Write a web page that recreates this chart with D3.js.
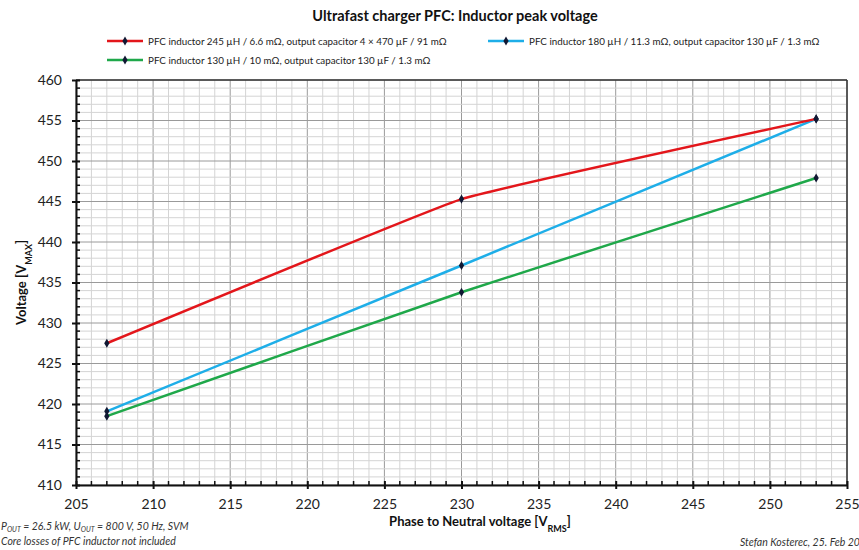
<!DOCTYPE html>
<html lang="en">
<head>
<meta charset="UTF-8">
<title>Ultrafast charger PFC: Inductor peak voltage</title>
<script src="https://d3js.org/d3.v7.min.js"></script>
<style>
    body { margin: 0; background: #fff; font-family: Lato, "Open Sans", sans-serif; }
    .tick-label { font-size: 14px; fill: #222; }
    .legend text { font-size: 9.8px; fill: #222; }
    .note { font-size: 10.5px; font-style: italic; fill: #333; }
</style>
</head>
<body>
<div id="chart"></div>
<script>
// data
const phaseVoltage = [207, 230, 253];
const redSeries = [427.5, 445.3, 455.2];
const blueSeries = [419.1, 437.1, 455.2];
const greenSeries = [418.5, 433.8, 447.9];
const seriesNames = [
    "PFC inductor 245 µH / 6.6 mΩ, output capacitor 4 × 470 µF / 91 mΩ",
    "PFC inductor 180 µH / 11.3 mΩ, output capacitor 130 µF / 1.3 mΩ",
    "PFC inductor 130 µH / 10 mΩ, output capacitor 130 µF / 1.3 mΩ"
];
const seriesColors = ["#e3161b", "#1eaee8", "#1fa84a"];
const xTicks = [205, 210, 215, 220, 225, 230, 235, 240, 245, 250, 255];
const yTicks = [410, 415, 420, 425, 430, 435, 440, 445, 450, 455, 460];

const width = 859, height = 550;
const svg = d3.select("#chart").append("svg")
    .attr("width", width).attr("height", height);

const x = d3.scaleLinear().domain([205, 255]).range([76, 847]);
const y = d3.scaleLinear().domain([410, 460]).range([485, 80]);

// grid
const minorX = d3.range(205, 256, 1), minorY = d3.range(410, 461, 1);
const grid = svg.append("g");
grid.selectAll(".gx").data(minorX).enter().append("line")
    .attr("x1", d => x(d)).attr("x2", d => x(d))
    .attr("y1", y(410)).attr("y2", y(460))
    .attr("stroke", d => d % 5 === 0 ? "#9a9a9a" : "#d4d4d4")
    .attr("stroke-width", 1);
grid.selectAll(".gy").data(minorY).enter().append("line")
    .attr("y1", d => y(d)).attr("y2", d => y(d))
    .attr("x1", x(205)).attr("x2", x(255))
    .attr("stroke", d => d % 5 === 0 ? "#9a9a9a" : "#d4d4d4")
    .attr("stroke-width", 1);

// frame
svg.append("line").attr("x1", x(205)).attr("x2", x(255)).attr("y1", y(460)).attr("y2", y(460))
    .attr("stroke", "#333").attr("stroke-width", 1.5);
svg.append("line").attr("x1", x(255)).attr("x2", x(255)).attr("y1", y(460)).attr("y2", y(410))
    .attr("stroke", "#333").attr("stroke-width", 1.5);

// axes
const xAxis = svg.append("g").attr("transform", `translate(0,${y(410)})`)
    .call(d3.axisBottom(x).tickValues(xTicks).tickSize(4).tickSizeOuter(0).tickPadding(10));
const yAxis = svg.append("g").attr("transform", `translate(${x(205)},0)`)
    .call(d3.axisLeft(y).tickValues(yTicks).tickSize(4).tickSizeOuter(0).tickPadding(10));
[xAxis, yAxis].forEach(a => {
    a.select(".domain").attr("stroke", "#111").attr("stroke-width", 2);
    a.selectAll(".tick line").attr("stroke", "#111").attr("stroke-width", 2);
    a.selectAll(".tick text").attr("class", "tick-label")
        .style("font-family", "Lato, sans-serif").style("font-size", "14px");
});
// major ticks cross the axis
xAxis.selectAll(".tick line").attr("y1", -4).attr("y2", 4);
yAxis.selectAll(".tick line").attr("x1", -4).attr("x2", 4);
// minor ticks inside
svg.append("g").selectAll("line").data(minorX.filter(d => d % 5)).enter().append("line")
    .attr("x1", d => x(d)).attr("x2", d => x(d))
    .attr("y1", y(410)).attr("y2", y(410) - 4)
    .attr("stroke", "#111").attr("stroke-width", 1.5);
svg.append("g").selectAll("line").data(minorY.filter(d => d % 5)).enter().append("line")
    .attr("y1", d => y(d)).attr("y2", d => y(d))
    .attr("x1", x(205)).attr("x2", x(205) + 4)
    .attr("stroke", "#111").attr("stroke-width", 1.5);

// series (smoothed lines, like the spreadsheet original)
const allSeries = [redSeries, blueSeries, greenSeries];
const line = d3.line()
    .x((d, i) => x(phaseVoltage[i]))
    .y(d => y(d))
    .curve(d3.curveCardinal.tension(0.75));
const order = [2, 1, 0];
order.forEach(k => {
    svg.append("path").datum(allSeries[k])
        .attr("d", line).attr("fill", "none")
        .attr("stroke", seriesColors[k]).attr("stroke-width", 2.5);
});
const diamond = d3.symbol().type(d3.symbolDiamond).size(24);
order.forEach(k => {
    svg.append("g").selectAll("path").data(allSeries[k]).enter().append("path")
        .attr("d", diamond)
        .attr("transform", (d, i) => `translate(${x(phaseVoltage[i])},${y(d)})`)
        .attr("fill", "#111833");
});

// title
svg.append("text").attr("x", 455).attr("y", 21).attr("text-anchor", "middle")
    .style("font-size", "14.5px").style("font-weight", "bold").style("fill", "#111")
    .text("Ultrafast charger PFC: Inductor peak voltage");

// legend
const legendPos = [[107, 41], [488, 41], [107, 60]];
const legend = svg.append("g").attr("class", "legend");
seriesNames.forEach((name, k) => {
    const [lx, ly] = legendPos[k];
    legend.append("line").attr("x1", lx).attr("x2", lx + 36).attr("y1", ly).attr("y2", ly)
        .attr("stroke", seriesColors[k]).attr("stroke-width", 2.5);
    legend.append("path").attr("d", diamond).attr("transform", `translate(${lx + 18},${ly})`)
        .attr("fill", "#111833");
    legend.append("text").attr("x", lx + 41).attr("y", ly + 3.5).text(name);
});

// axis titles
const yTitle = svg.append("text")
    .attr("transform", `translate(26,${(y(410) + y(460)) / 2}) rotate(-90)`)
    .attr("text-anchor", "middle")
    .style("font-size", "13px").style("font-weight", "bold").style("fill", "#111");
yTitle.append("tspan").text("Voltage [V");
yTitle.append("tspan").attr("baseline-shift", "sub").style("font-size", "9px").text("MAX");
yTitle.append("tspan").text("]");

const xTitle = svg.append("text").attr("x", 480).attr("y", 526).attr("text-anchor", "middle")
    .style("font-size", "13px").style("font-weight", "bold").style("fill", "#111");
xTitle.append("tspan").text("Phase to Neutral voltage [V");
xTitle.append("tspan").attr("baseline-shift", "sub").style("font-size", "9px").text("RMS");
xTitle.append("tspan").text("]");

// notes
const n1 = svg.append("text").attr("class", "note").attr("x", 1).attr("y", 530);
n1.append("tspan").text("P");
n1.append("tspan").attr("baseline-shift", "-1.5px").style("font-size", "7px").text("OUT");
n1.append("tspan").text(" = 26.5 kW, U");
n1.append("tspan").attr("baseline-shift", "-1.5px").style("font-size", "7px").text("OUT");
n1.append("tspan").text(" = 800 V, 50 Hz, SVM");
svg.append("text").attr("class", "note").attr("x", 1).attr("y", 545)
    .text("Core losses of PFC inductor not included");
svg.append("text").attr("class", "note").attr("x", 740).attr("y", 546)
    .text("Stefan Kosterec, 25. Feb 20");
</script>
</body>
</html>
